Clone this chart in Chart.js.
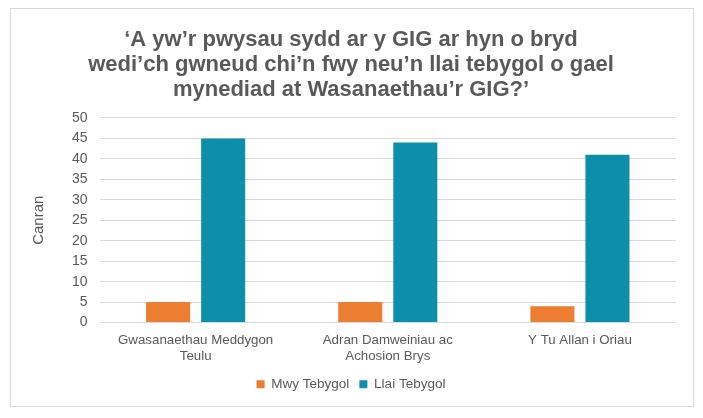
<!DOCTYPE html>
<html>
<head>
<meta charset="utf-8">
<script src="https://cdn.jsdelivr.net/npm/chart.js@4.4.0/dist/chart.umd.min.js"></script>
<style>
html,body{margin:0;padding:0;background:#fff;}
#frame{position:absolute;left:10px;top:8px;width:682px;height:397px;border:1px solid #d9d9d9;box-sizing:content-box;}
#wrap{position:relative;width:682px;height:397px;}
</style>
</head>
<body>
<div id="frame"><div id="wrap"><canvas id="c"></canvas></div></div>
<script>
const categories = [["Gwasanaethau Meddygon","Teulu"],["Adran Damweiniau ac","Achosion Brys"],"Y Tu Allan i Oriau"];
const seriesNames = ["Mwy Tebygol","Llai Tebygol"];
const mwyTebygol = [5, 5, 4];
const llaiTebygol = [45, 44, 41];
const titleLines = ["‘A yw’r pwysau sydd ar y GIG ar hyn o bryd","wedi’ch gwneud chi’n fwy neu’n llai tebygol o gael","mynediad at Wasanaethau’r GIG?’"];
const yTitle = "Canran";

const grey = "#595959";
const fam = "'Liberation Sans', Arial, sans-serif";
new Chart(document.getElementById('c'), {
  type: 'bar',
  data: {
    labels: categories,
    datasets: [
      {label: seriesNames[0], data: mwyTebygol, backgroundColor: '#ED7D31', barPercentage: 0.8, categoryPercentage: 0.573},
      {label: seriesNames[1], data: llaiTebygol, backgroundColor: '#0B8FAB', barPercentage: 0.8, categoryPercentage: 0.573}
    ]
  },
  options: {
    responsive: true,
    maintainAspectRatio: false,
    animation: false,
    layout: {padding: {left: 15, right: 17, top: 10, bottom: 5}},
    plugins: {
      title: {
        display: true,
        text: titleLines,
        color: grey,
        font: {family: fam, size: 22, weight: 'bold', lineHeight: 1.12},
        padding: {top: 9, bottom: 16}
      },
      legend: {
        position: 'bottom',
        labels: {
          color: grey,
          boxWidth: 8, boxHeight: 8,
          font: {family: fam, size: 13.5},
          padding: 10
        }
      },
      tooltip: {enabled: false}
    },
    scales: {
      x: {
        grid: {display: false, drawTicks: false},
        border: {display: false},
        ticks: {color: grey, font: {family: fam, size: 13.3}, padding: 10, maxRotation: 0},
        afterFit: (scale) => { scale.height -= 7; }
      },
      y: {
        min: 0, max: 50,
        ticks: {stepSize: 5, color: grey, font: {family: fam, size: 14}, padding: 12},
        grid: {color: '#d9d9d9', lineWidth: 1, drawTicks: false},
        border: {display: false},
        title: {display: true, text: yTitle, color: grey, font: {family: fam, size: 15}, padding: {top: 4, bottom: 12}}
      }
    }
  }
});
</script>
</body>
</html>
